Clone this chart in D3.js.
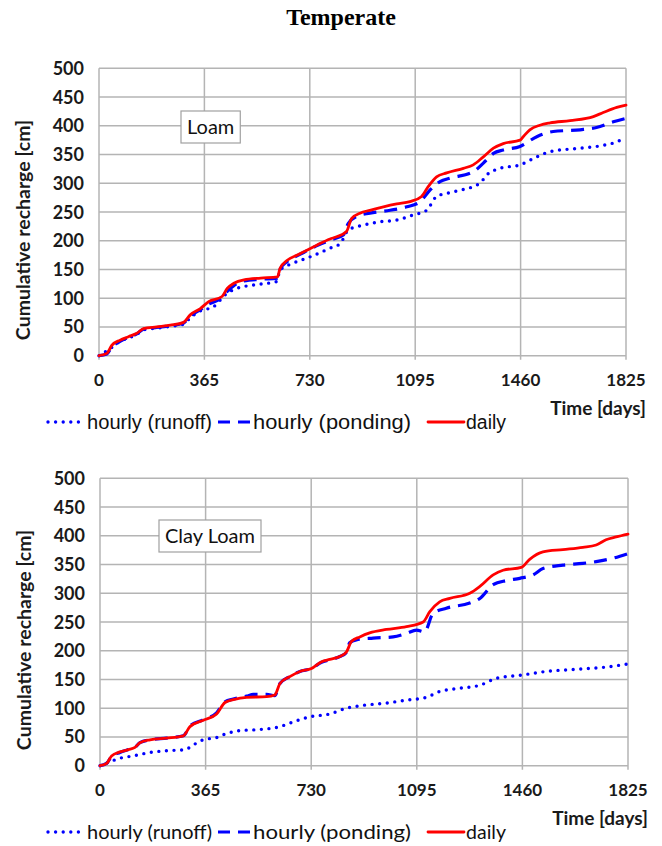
<!DOCTYPE html>
<html>
<head>
<meta charset="utf-8">
<script src="https://cdn.jsdelivr.net/npm/d3@7"></script>
<style>
  body { margin: 0; background: #fff; }
  svg { display: block; }
  .grid line { stroke: #b4b4b4; stroke-width: 1.5; }
  .tick-label { font-family: Lato, "Open Sans", sans-serif; font-weight: bold; font-size: 17px; fill: #1a1a1a; }
</style>
</head>
<body>
<svg width="662" height="846"></svg>
<script>
var xTicks = [0, 365, 730, 1095, 1460, 1825];
var yTicks = [0, 50, 100, 150, 200, 250, 300, 350, 400, 450, 500];
var seriesNames = ['hourly (runoff)', 'hourly (ponding)', 'daily'];

// [day, cumulative recharge cm]
var loamRunoff = [[0,0],[38,12],[73,25],[102,31],[131,37],[154,45],[200,48],[247,51],[293,55],[316,66],[351,78],[396,85],[442,108],[477,117],[534,123],[615,129],[627,149],[673,161],[731,172],[800,187],[835,195],[864,219],[915,227],[973,233],[1031,236],[1089,245],[1135,253],[1169,277],[1227,285],[1319,300],[1342,314],[1389,326],[1458,332],[1516,346],[1562,355],[1666,361],[1746,366],[1793,372],[1825,380]];
var loamPonding = [[0,0],[27,3],[44,15],[73,25],[102,32],[131,38],[154,46],[200,49],[247,52],[293,57],[316,69],[351,80],[380,90],[410,96],[444,112],[467,122],[502,130],[560,133],[618,135],[627,150],[652,164],[687,174],[722,183],[757,192],[800,201],[846,210],[863,230],[892,242],[938,248],[1008,253],[1066,259],[1112,268],[1146,288],[1181,303],[1216,309],[1296,320],[1331,335],[1366,352],[1400,358],[1458,364],[1516,381],[1573,390],[1666,393],[1723,397],[1781,407],[1825,413]];
var loamDaily = [[0,0],[27,4],[44,18],[73,27],[102,33],[131,39],[154,47],[200,50],[247,53],[293,58],[316,71],[351,82],[380,94],[426,103],[444,117],[467,126],[502,132],[560,135],[618,137],[627,152],[652,166],[687,175],[722,184],[757,193],[800,203],[823,207],[857,216],[875,239],[904,248],[938,253],[985,259],[1031,264],[1077,268],[1117,277],[1140,294],[1169,311],[1204,318],[1262,326],[1296,332],[1331,346],[1366,361],[1400,369],[1458,375],[1469,381],[1492,393],[1527,401],[1562,405],[1631,409],[1712,416],[1746,423],[1793,432],[1825,436]];

var clayRunoff = [[0,0],[35,7],[69,13],[115,17],[173,23],[230,26],[294,28],[322,36],[357,45],[403,49],[438,56],[484,61],[553,63],[622,68],[656,74],[725,85],[794,90],[852,100],[910,105],[990,109],[1059,114],[1128,119],[1174,129],[1232,134],[1313,140],[1370,152],[1462,158],[1543,164],[1658,168],[1738,171],[1825,177]];
var clayPonding = [[0,0],[23,4],[40,16],[69,23],[98,28],[121,32],[138,40],[173,45],[230,48],[288,52],[311,69],[357,80],[403,92],[432,111],[461,116],[507,121],[530,124],[576,124],[604,122],[622,143],[656,155],[691,164],[731,169],[766,180],[794,184],[829,190],[852,197],[863,214],[886,219],[944,222],[1013,224],[1059,230],[1094,236],[1122,233],[1151,265],[1197,274],[1278,283],[1313,291],[1359,315],[1405,322],[1451,326],[1497,332],[1531,343],[1600,349],[1669,352],[1715,355],[1773,361],[1825,369]];
var clayDaily = [[0,0],[23,4],[40,17],[69,24],[98,28],[121,32],[138,40],[173,45],[230,48],[288,52],[311,68],[357,79],[403,90],[432,110],[461,115],[507,119],[576,120],[604,123],[622,143],[656,155],[691,164],[731,169],[766,181],[794,185],[829,190],[852,198],[869,216],[898,224],[932,231],[990,237],[1059,242],[1117,250],[1140,268],[1174,285],[1209,291],[1278,300],[1313,312],[1359,332],[1393,340],[1456,345],[1485,359],[1531,372],[1600,376],[1669,380],[1715,384],[1749,393],[1784,398],[1825,403]];

var svg = d3.select('svg');

svg.append('text')
  .attr('x', 341).attr('y', 25)
  .attr('text-anchor', 'middle')
  .style('font-family', '"Liberation Serif", "Times New Roman", serif')
  .style('font-weight', 'bold')
  .style('font-size', '24px')
  .text('Temperate');

var styles = [
  { stroke: '#0000ff', width: 3.4, dash: '0 7.6', cap: 'round' },
  { stroke: '#0000ff', width: 3.2, dash: '13 8', cap: 'butt' },
  { stroke: '#ff0000', width: 2.8, dash: null, cap: 'round' }
];

var drawPanel = function(p) {
  var x = d3.scaleLinear().domain([0, 1825]).range([p.left, p.right]);
  var y = d3.scaleLinear().domain([0, 500]).range([p.bottom, p.top]);
  var g = svg.append('g');

  var grid = g.append('g').classed('grid', true);
  grid.selectAll('line.h').data(yTicks).enter().append('line')
    .attr('x1', p.left).attr('x2', p.right)
    .attr('y1', function(d) { return y(d); })
    .attr('y2', function(d) { return y(d); });
  grid.selectAll('line.v').data(xTicks).enter().append('line')
    .attr('x1', function(d) { return x(d); })
    .attr('x2', function(d) { return x(d); })
    .attr('y1', p.top).attr('y2', p.bottom + 4);

  g.selectAll('text.ytick').data(yTicks).enter().append('text')
    .attr('class', 'tick-label')
    .attr('x', p.left - 15)
    .attr('y', function(d) { return y(d) + 6.5; })
    .attr('text-anchor', 'end')
    .style('font-size', '18px')
    .text(function(d) { return d; });

  g.selectAll('text.xtick').data(xTicks).enter().append('text')
    .attr('class', 'tick-label')
    .attr('x', function(d) { return x(d); })
    .attr('y', p.bottom + 30)
    .attr('text-anchor', 'middle')
    .text(function(d) { return d; });

  g.append('text')
    .attr('class', 'tick-label')
    .attr('transform', 'translate(' + (p.left - 69) + ',' + ((p.top + p.bottom) / 2 + 18) + ') rotate(-90)')
    .attr('text-anchor', 'middle')
    .style('font-size', '19.5px')
    .text('Cumulative recharge [cm]');

  g.append('text')
    .attr('class', 'tick-label')
    .attr('x', p.right + 20)
    .attr('y', p.bottom + 59)
    .attr('text-anchor', 'end')
    .style('font-size', '19px')
    .text('Time [days]');

  var line = d3.line()
    .x(function(d) { return x(d[0]); })
    .y(function(d) { return y(d[1]); })
    .curve(d3.curveMonotoneX);

  g.selectAll('path.series').data(p.series).enter().append('path')
    .attr('d', function(d) { return line(d); })
    .style('fill', 'none')
    .attr('stroke', function(d, i) { return styles[i].stroke; })
    .attr('stroke-width', function(d, i) { return styles[i].width; })
    .attr('stroke-dasharray', function(d, i) { return styles[i].dash; })
    .attr('stroke-linecap', function(d, i) { return styles[i].cap; })
    .attr('stroke-linejoin', 'round');

  // soil label box
  var lab = g.append('g');
  var t = lab.append('text')
    .attr('x', p.boxX + 6).attr('y', p.boxY + 23)
    .style('font-family', 'Lato, "Open Sans", sans-serif')
    .style('font-size', '20px')
    .attr('fill', '#111')
    .text(p.name);
  var bb = t.node().getBBox();
  lab.insert('rect', 'text')
    .attr('x', p.boxX).attr('y', p.boxY)
    .attr('width', bb.width + 12).attr('height', 32)
    .attr('fill', '#fff')
    .attr('stroke', '#a0a0a0').attr('stroke-width', 1.2);

  // legend
  var leg = g.append('g');
  var items = [
    { x1: 48, x2: 85, tx: 87, w: 125 },
    { x1: 218, x2: 250, tx: 253, w: 158 },
    { x1: 428, x2: 464, tx: 466, w: 40 }
  ];
  var ly = p.legendY;
  leg.selectAll('line').data(items).enter().append('line')
    .attr('x1', function(d) { return d.x1; })
    .attr('x2', function(d) { return d.x2; })
    .attr('y1', ly).attr('y2', ly)
    .attr('stroke', function(d, i) { return styles[i].stroke; })
    .attr('stroke-width', function(d, i) { return styles[i].width; })
    .attr('stroke-dasharray', function(d, i) { return i === 1 ? '12 8' : styles[i].dash; })
    .attr('stroke-linecap', function(d, i) { return styles[i].cap; });
  leg.selectAll('text').data(items).enter().append('text')
    .attr('x', function(d) { return d.tx; })
    .attr('y', ly + 7)
    .attr('textLength', function(d) { return d.w; })
    .attr('lengthAdjust', 'spacingAndGlyphs')
    .style('font-family', p.legendFont)
    .style('font-size', '20px')
    .attr('fill', '#111')
    .text(function(d, i) { return seriesNames[i]; });
};

drawPanel({
  name: 'Loam', left: 99, right: 626, top: 68.3, bottom: 355.7,
  boxX: 181, boxY: 111, legendY: 422,
  legendFont: '"Liberation Sans", Arial, sans-serif',
  series: [loamRunoff, loamPonding, loamDaily]
});

drawPanel({
  name: 'Clay Loam', left: 100, right: 628, top: 478.3, bottom: 765.7,
  boxX: 159, boxY: 520, legendY: 832,
  legendFont: 'Lato, "Open Sans", sans-serif',
  series: [clayRunoff, clayPonding, clayDaily]
});
</script>
</body>
</html>
